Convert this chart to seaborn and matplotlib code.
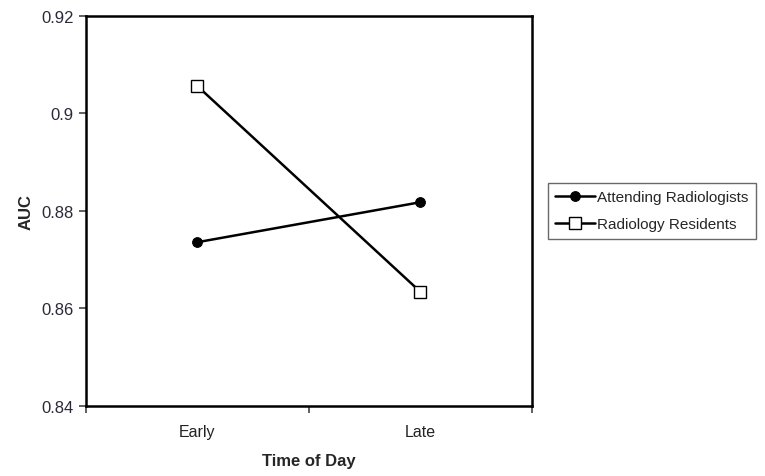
import pandas as pd
import numpy as np
import seaborn as sns
import matplotlib.pyplot as plt
from matplotlib.ticker import FixedLocator, NullFormatter

# data
times = ['Early', 'Late']
attending = [0.8736, 0.8818]
residents = [0.9056, 0.8634]
y_ticks = [0.84, 0.86, 0.88, 0.9, 0.92]

df = pd.DataFrame({'time': times * 2,
                   'auc': attending + residents,
                   'group': ['Attending Radiologists'] * 2 + ['Radiology Residents'] * 2})

sns.set_style('white')
plt.rcParams['font.family'] = ['Liberation Sans', 'DejaVu Sans']

fig = plt.figure(figsize=(7.65, 4.77), dpi=100)
ax = fig.add_axes([0.1124, 0.1468, 0.583, 0.8176])

sub = df[df['group'] == 'Attending Radiologists']
sns.lineplot(data=sub, x='time', y='auc', ax=ax, color='black', lw=1.8,
             marker='o', markersize=7, markerfacecolor='black',
             markeredgecolor='black', label='Attending Radiologists')
sub = df[df['group'] == 'Radiology Residents']
sns.lineplot(data=sub, x='time', y='auc', ax=ax, color='black', lw=1.8,
             marker='s', markersize=9, markerfacecolor='white',
             markeredgecolor='black', markeredgewidth=1.0,
             label='Radiology Residents')

ax.set_xlim(-0.5, 1.5)
ax.set_ylim(0.84, 0.92)
ax.set_yticks(y_ticks)
ax.set_yticklabels(['0.84', '0.86', '0.88', '0.9', '0.92'])
ax.set_xticks([0, 1])
ax.set_xticklabels(times)
ax.xaxis.set_minor_locator(FixedLocator([-0.5, 0.5, 1.5]))
ax.xaxis.set_minor_formatter(NullFormatter())
ax.tick_params(axis='x', which='major', length=0, pad=13, labelsize=11.5, colors='#222222')
ax.tick_params(axis='x', which='minor', length=5, width=1.2, direction='out', color='#444444', bottom=True)
ax.tick_params(axis='y', which='major', length=5, width=1.2, direction='out', labelsize=12,
               colors='#444444', left=True, labelcolor='#2a2a3a', pad=4)

for s in ax.spines.values():
    s.set_color('black')
    s.set_linewidth(1.8)

ax.set_xlabel('Time of Day', fontsize=12, fontweight='bold', labelpad=10)
ax.set_ylabel('AUC', fontsize=12, fontweight='bold', labelpad=5)

leg = ax.legend(loc='center left', bbox_to_anchor=(0.716, 0.556), bbox_transform=fig.transFigure,
                frameon=True, fancybox=False, fontsize=11, handlelength=2.6,
                handletextpad=0.1, borderpad=0.5, labelspacing=0.85, borderaxespad=0)
leg.get_frame().set_edgecolor('#444444')
leg.get_frame().set_linewidth(1.0)

fig.savefig('out.png', dpi=100)
